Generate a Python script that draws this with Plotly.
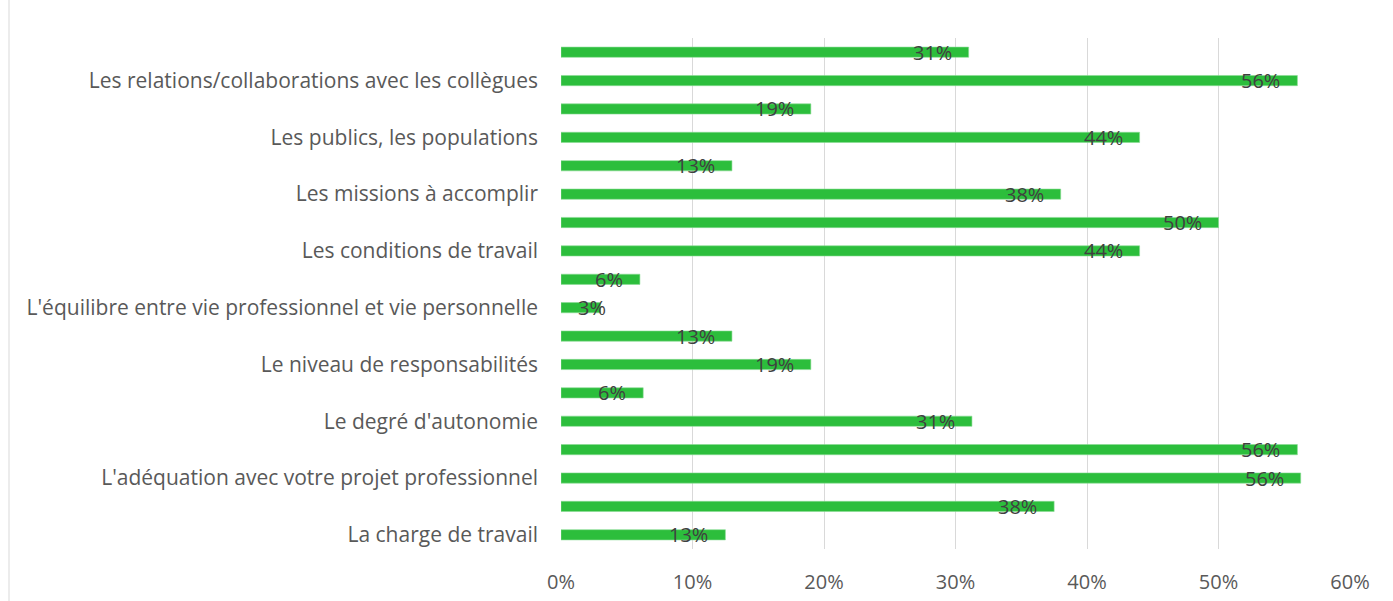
import plotly.graph_objects as go

# Bars listed from the bottom of the chart to the top
values = [12.5, 37.5, 56.25, 56, 31.25, 6.25, 19, 13, 3, 6, 44, 50, 38, 13, 44, 19, 56, 31]

# Category names shown on the axis (every other bar carries a label)
category_labels = [
    "La charge de travail",
    "L'adéquation avec votre projet professionnel",
    "Le degré d'autonomie",
    "Le niveau de responsabilités",
    "L'équilibre entre vie professionnel et vie personnelle",
    "Les conditions de travail",
    "Les missions à accomplir",
    "Les publics, les populations",
    "Les relations/collaborations avec les collègues",
]

x_ticks = [0, 10, 20, 30, 40, 50, 60]

W, H = 1393, 601
M_L, M_R, M_T, M_B = 561, 43, 38, 52
PLOT_W = W - M_L - M_R
X_MAX = 60
PX_PER_UNIT = PLOT_W / X_MAX

positions = list(range(len(values)))
label_positions = positions[::2]

BAR_COLOR = "#2CBE3C"
GRID_COLOR = "#D9D9D9"
LABEL_FONT = "Open Sans, Calibri, Arial, sans-serif"

fig = go.Figure(
    go.Bar(
        x=values,
        y=positions,
        orientation="h",
        width=0.36,
        marker=dict(color=BAR_COLOR, line=dict(color="#8ADB94", width=0.6)),
        hoverinfo="skip",
    )
)

# Value labels sit just inside the end of each bar, clamped near the base
annotations = []
for v, p in zip(values, positions):
    txt = f"{int(v + 0.5)}%"
    est_w = 13 * len(txt)
    end_px = v * PX_PER_UNIT
    if end_px - 16 - est_w < 16:
        annotations.append(dict(x=0, y=p, xref="x", yref="y", text=txt,
                                showarrow=False, xanchor="left", xshift=15, yshift=0,
                                font=dict(family=LABEL_FONT, size=20, color="#404040")))
    else:
        annotations.append(dict(x=v, y=p, xref="x", yref="y", text=txt,
                                showarrow=False, xanchor="right", xshift=-15, yshift=0,
                                font=dict(family=LABEL_FONT, size=20, color="#404040")))

left_edge = (9 - M_L) / PLOT_W

fig.update_layout(
    width=W,
    height=H,
    margin=dict(l=M_L, r=M_R, t=M_T, b=M_B),
    paper_bgcolor="white",
    plot_bgcolor="white",
    showlegend=False,
    annotations=annotations,
    shapes=[dict(type="line", xref="paper", yref="paper", x0=left_edge, x1=left_edge,
                 y0=-0.2, y1=1.2, line=dict(color="#D9D9D9", width=1))],
    xaxis=dict(
        range=[0, X_MAX],
        tickvals=x_ticks,
        ticktext=[f"{t}%" for t in x_ticks],
        showgrid=True,
        gridcolor=GRID_COLOR,
        gridwidth=1,
        zeroline=False,
        showline=False,
        ticks="",
        ticklabelstandoff=19,
        tickfont=dict(family=LABEL_FONT, size=20, color="#595959"),
        automargin=False,
        fixedrange=True,
    ),
    yaxis=dict(
        range=[-0.5, len(values) - 0.5],
        tickvals=label_positions,
        ticktext=category_labels,
        showgrid=False,
        zeroline=False,
        showline=False,
        ticks="",
        ticklabelstandoff=22,
        tickfont=dict(family=LABEL_FONT, size=21, color="#595959"),
        automargin=False,
        fixedrange=True,
    ),
)

fig.write_html("out.html")
